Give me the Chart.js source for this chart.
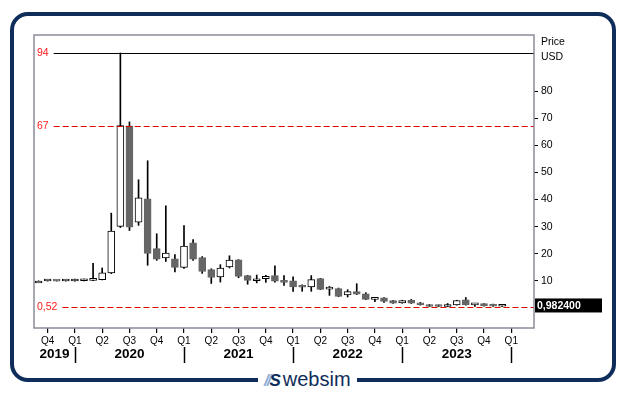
<!DOCTYPE html>
<html><head><meta charset="utf-8">
<script src="https://cdn.jsdelivr.net/npm/chart.js@4"></script>
<style>
html,body{margin:0;padding:0;background:#fff;}
#wrap{position:relative;width:629px;height:395px;overflow:hidden;background:#fff;}
#frame{position:absolute;left:10px;top:12px;width:598px;height:362px;border:4px solid #0f2d5b;border-radius:18px;}
#c{position:absolute;left:0;top:0;}
#logo{position:absolute;left:258px;top:368px;height:24px;padding:0 6px;background:#fff;color:#0f2d5b;font-family:"Liberation Sans",Arial,sans-serif;font-size:20px;line-height:22px;white-space:nowrap;}
#logo .ic{font-style:italic;font-weight:bold;font-size:17px;color:#0f2d5b;letter-spacing:-2px;margin-right:4px;}
#logo .ic b{color:#8fb0d8;}
</style></head>
<body>
<div id="wrap">
<div id="frame"></div>
<canvas id="c" width="629" height="395"></canvas>
<div id="logo"><span class="ic"><b>//</b>S</span>websim</div>
</div>
<script>
// ---- data ----
const months = ['2019-09','2019-10','2019-11','2019-12',
 '2020-01','2020-02','2020-03','2020-04','2020-05','2020-06','2020-07','2020-08','2020-09','2020-10','2020-11','2020-12',
 '2021-01','2021-02','2021-03','2021-04','2021-05','2021-06','2021-07','2021-08','2021-09','2021-10','2021-11','2021-12',
 '2022-01','2022-02','2022-03','2022-04','2022-05','2022-06','2022-07','2022-08','2022-09','2022-10','2022-11','2022-12',
 '2023-01','2023-02','2023-03','2023-04','2023-05','2023-06','2023-07','2023-08','2023-09','2023-10','2023-11','2023-12',
 '2024-01','2024-02','2024-03'];
const opens  = [10.0,10.0,10.05,10.0, 10.0,10.1,10.2,10.5,13.0,30.1,67.2,31.7,40.3,21.9,18.5,18.2,
 15.0,24.1,18.6,14.2,11.5,15.2,17.8,12.0,10.1,10.9,12.0,10.1,
 10.1,8.3,7.8,10.9,7.0,7.2,4.9,6.1,5.3,3.2,3.8,2.8,
 1.9,2.9,2.0,1.3,0.9,0.6,1.2,3.1,1.2,1.65,1.0,0.7, null,null,null];
const highs  = [10.05,10.1,10.05,10.1, 10.7,10.7,16.5,14.8,35.0,94.0,68.6,47.3,54.3,27.4,37.7,19.7,
 30.4,25.3,19.0,14.5,16.0,19.3,17.9,12.1,12.2,12.1,15.6,12.0,
 11.5,8.6,12.0,11.0,8.0,7.4,6.8,9.0,5.7,3.9,3.9,2.9,
 2.9,3.2,2.1,1.4,1.2,1.7,2.9,3.9,1.7,1.7,1.5,1.0, null,null,null];
const lows   = [9.95,9.95,9.95,9.95, 9.95,10.0,10.1,10.4,12.7,29.7,28.6,30.5,15.8,17.6,17.2,13.3,
 14.6,17.6,12.8,9.1,9.6,14.8,11.2,8.8,9.3,9.5,9.6,8.4,
 6.2,6.2,6.2,6.8,4.7,4.2,4.1,5.0,3.1,2.4,2.1,1.7,
 1.8,1.7,1.1,0.52,0.55,0.55,1.1,1.1,0.6,0.7,0.6,0.6, null,null,null];
const closes = [10.0,10.05,9.95,10.05, 10.1,10.2,10.4,13.0,28.4,67.3,29.8,40.6,20.2,18.0,20.3,15.0,
 22.9,18.0,13.5,11.3,14.8,17.7,11.7,10.2,10.3,11.7,9.9,9.5,
 7.8,7.7,10.5,6.9,7.2,4.3,6.1,5.1,3.2,3.8,2.5,1.8,
 2.8,1.8,1.2,0.6,0.6,1.2,2.8,1.2,1.6,0.8,0.7,0.9824, null,null,null];
const yTicks = [10,20,30,40,50,60,70,80];
const quarterNames = {'01':'Q1','04':'Q2','07':'Q3','10':'Q4'};
const years = ['2019','2020','2021','2022','2023'];
const refValues = [94, 67, 0.52];
const refLabels = ['94','67','0,52'];
const lastPriceLabel = '0,982400';
const axisTitle = ['Price','USD'];

// ---- helpers ----
const FONT = '"Liberation Sans", Arial, sans-serif';
const isUp = i => closes[i] >= opens[i];
const quarterOf = i => quarterNames[months[i].slice(5)] || '';
const wickData = months.map((m,i) => highs[i]==null ? null : [lows[i], highs[i]]);
const bodyData = months.map((m,i) => opens[i]==null ? null : [opens[i], closes[i]]);
let lastIdx = 0; closes.forEach((v,i)=>{ if(v!=null) lastIdx=i; });

const deco = {
  id: 'deco',
  afterDatasetsDraw(chart){
    const {ctx, chartArea:a, scales:{x, y}} = chart;
    ctx.save();
    // reference levels
    ctx.font = '10.5px ' + FONT;
    ctx.textBaseline = 'middle';
    ctx.textAlign = 'left';
    refValues.forEach((v,k) => {
      const py = Math.round(y.getPixelForValue(v)) + 0.5;
      const tx = a.left + 3;
      ctx.fillStyle = '#ff1a1a';
      ctx.fillText(refLabels[k], tx, py);
      const w = ctx.measureText(refLabels[k]).width;
      ctx.beginPath();
      ctx.moveTo(tx + w + 5, py);
      ctx.lineTo(a.right, py);
      if (k === 0) { ctx.strokeStyle = '#000'; ctx.setLineDash([]); }
      else { ctx.strokeStyle = '#e00000'; ctx.setLineDash([6,3]); }
      ctx.lineWidth = 1.2;
      ctx.stroke();
    });
    ctx.setLineDash([]);
    ctx.restore();
  },
  afterDraw(chart){
    const {ctx, chartArea:a, scales:{x, y}} = chart;
    ctx.save();
    // plot frame
    ctx.strokeStyle = '#8c8c9a';
    ctx.lineWidth = 1.5;
    ctx.strokeRect(a.left, a.top, a.right - a.left, a.bottom - a.top);
    // axis title
    ctx.fillStyle = '#000';
    ctx.font = '10.5px ' + FONT;
    ctx.textBaseline = 'middle';
    ctx.textAlign = 'left';
    ctx.fillText(axisTitle[0], a.right + 7, a.top + 7);
    ctx.fillText(axisTitle[1], a.right + 7, a.top + 22);
    // last price box
    const py = y.getPixelForValue(closes[lastIdx]);
    ctx.fillStyle = '#000';
    ctx.fillRect(a.right + 1, py - 7, 67, 14);
    ctx.fillStyle = '#fff';
    ctx.font = 'bold 10.5px ' + FONT;
    ctx.fillText(lastPriceLabel, a.right + 3, py + 0.5);
    // year separators & labels
    const jan = [];
    months.forEach((m,i) => { if (m.slice(5) === '01') jan.push({yr: m.slice(0,4), px: x.getPixelForValue(i)}); });
    ctx.strokeStyle = '#000';
    ctx.lineWidth = 1.5;
    jan.forEach(j => {
      const px = Math.round(j.px) + 0.5;
      ctx.beginPath(); ctx.moveTo(px, a.bottom + 19); ctx.lineTo(px, a.bottom + 35); ctx.stroke();
    });
    ctx.font = 'bold 13.5px ' + FONT;
    ctx.textAlign = 'center';
    ctx.fillStyle = '#000';
    years.forEach(yr => {
      const s = jan.find(j => j.yr === yr);
      const e = jan.find(j => +j.yr === +yr + 1);
      const x0 = s ? s.px : a.left;
      const x1 = e ? e.px : a.right;
      ctx.fillText(yr, (x0 + x1) / 2, a.bottom + 26);
    });
    ctx.restore();
  }
};

new Chart(document.getElementById('c'), {
  type: 'bar',
  data: {
    labels: months,
    datasets: [
      {
        label: 'wick',
        data: wickData,
        backgroundColor: '#000',
        borderWidth: 0,
        barThickness: 1,
        grouped: false,
        order: 2
      },
      {
        label: 'body',
        data: bodyData,
        backgroundColor: months.map((m,i) => isUp(i) ? '#ffffff' : '#666666'),
        borderColor: months.map((m,i) => isUp(i) ? '#000000' : '#666666'),
        borderWidth: 1,
        borderSkipped: false,
        barThickness: 7,
        minBarLength: 2,
        grouped: false,
        order: 1
      }
    ]
  },
  options: {
    responsive: false,
    animation: false,
    devicePixelRatio: 1,
    layout: { padding: { left: 34, top: 35, right: 0, bottom: 0 } },
    plugins: { legend: { display: false }, tooltip: { enabled: false } },
    scales: {
      x: {
        offset: true,
        border: { display: false },
        grid: {
          offset: false,
          drawOnChartArea: false,
          drawTicks: true,
          tickLength: 5,
          lineWidth: 1.2,
          color: c => quarterOf(c.index) ? '#000' : 'rgba(0,0,0,0)'
        },
        ticks: {
          autoSkip: false,
          maxRotation: 0,
          minRotation: 0,
          padding: 2,
          color: '#000',
          font: { family: FONT, size: 10 },
          callback: (v, i) => quarterOf(i)
        },
        afterFit: s => { s.height = 67; }
      },
      y: {
        position: 'right',
        min: -7.32,
        max: 100.64,
        border: { display: false },
        grid: { drawOnChartArea: false, drawTicks: true, tickLength: 4, color: '#000', lineWidth: 1 },
        afterBuildTicks: s => { s.ticks = yTicks.map(v => ({ value: v })); },
        ticks: {
          padding: 3,
          color: '#000',
          font: { family: FONT, size: 10.5 },
          callback: v => String(v)
        },
        afterFit: s => { s.width = 95; }
      }
    }
  },
  plugins: [deco]
});
</script>
</body></html>
